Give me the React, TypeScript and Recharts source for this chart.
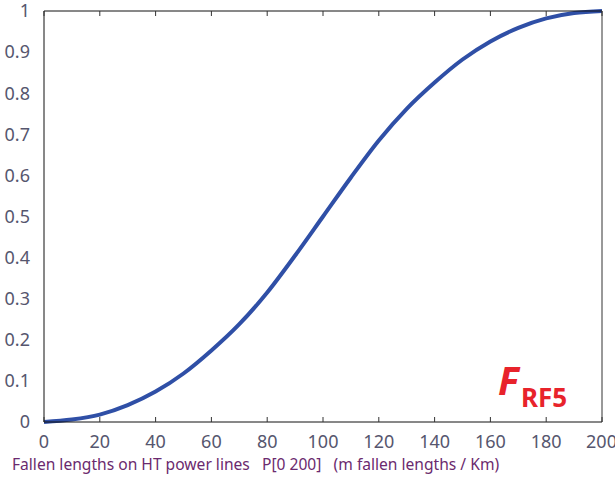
import React from 'react';
import { LineChart, Line, XAxis, YAxis, Customized } from 'recharts';

// Cumulative distribution of fallen lengths (m / km) on HT power lines
const lengths = [0, 10, 20, 30, 40, 50, 60, 70, 80, 90, 100, 110, 120, 130, 140, 150, 160, 170, 180, 190, 200];
const probability = [0, 0.006, 0.018, 0.041, 0.074, 0.118, 0.174, 0.238, 0.315, 0.405, 0.5, 0.595, 0.685, 0.762, 0.826, 0.882, 0.926, 0.959, 0.982, 0.995, 1.0];

const xTicks = [0, 20, 40, 60, 80, 100, 120, 140, 160, 180, 200];
const yTicks = [0, 0.1, 0.2, 0.3, 0.4, 0.5, 0.6, 0.7, 0.8, 0.9, 1];

const rows = lengths.map((x, i) => ({ x, p: probability[i] }));

const FONT = '"Noto Sans", "Open Sans", sans-serif';
const TICK_COLOR = '#56566e';
const LABEL_COLOR = '#6b2a6e';
const FRAME = '#111';

const Badge = () => (
  <g fill="#e8232b" fontFamily={FONT} fontWeight="bold">
    <text x={498} y={395} fontSize={39} fontStyle="italic">F</text>
    <text x={521} y={407} fontSize={26}>RF5</text>
  </g>
);

const AxisTitle = () => (
  <text x={12} y={470} fontFamily={FONT} fontSize={15.6} fill={LABEL_COLOR} style={{ whiteSpace: 'pre' }}>
    {'Fallen lengths on HT power lines   P[0 200]   (m fallen lengths / Km)'}
  </text>
);

const noTick = () => <g />;

export default function App() {
  return (
    <div style={{ position: 'absolute', left: 0, top: 0, background: '#fff' }}>
      <LineChart width={615} height={477} data={rows} margin={{ top: 11, right: 13, bottom: 0, left: 0 }}>
        {/* labelled axes */}
        <XAxis
          dataKey="x"
          type="number"
          domain={[0, 200]}
          ticks={xTicks}
          height={55}
          tickLine={false}
          tickMargin={7}
          axisLine={{ stroke: FRAME }}
          tick={{ fill: TICK_COLOR, fontSize: 18, fontFamily: FONT }}
        />
        <YAxis
          type="number"
          domain={[0, 1]}
          ticks={yTicks}
          width={44}
          tickLine={false}
          tickMargin={8}
          axisLine={{ stroke: FRAME }}
          tick={{ fill: TICK_COLOR, fontSize: 18, fontFamily: FONT }}
        />
        {/* inward tick marks on all four sides of the box */}
        <XAxis
          xAxisId="bottomTicks"
          orientation="bottom"
          mirror
          dataKey="x"
          type="number"
          domain={[0, 200]}
          ticks={xTicks}
          height={1}
          tickSize={5}
          axisLine={false}
          tickLine={{ stroke: '#333' }}
          tick={noTick}
        />
        <XAxis
          xAxisId="top"
          orientation="top"
          mirror
          dataKey="x"
          type="number"
          domain={[0, 200]}
          ticks={xTicks}
          height={1}
          tickSize={5}
          axisLine={{ stroke: FRAME }}
          tickLine={{ stroke: '#333' }}
          tick={noTick}
        />
        <YAxis
          yAxisId="leftTicks"
          orientation="left"
          mirror
          type="number"
          domain={[0, 1]}
          ticks={yTicks}
          width={1}
          tickSize={5}
          axisLine={false}
          tickLine={{ stroke: '#333' }}
          tick={noTick}
        />
        <YAxis
          yAxisId="right"
          orientation="right"
          mirror
          type="number"
          domain={[0, 1]}
          ticks={yTicks}
          width={1}
          tickSize={5}
          axisLine={{ stroke: '#333' }}
          tickLine={{ stroke: '#333' }}
          tick={noTick}
        />
        <Line
          type="monotone"
          dataKey="p"
          stroke="#2f4fa6"
          strokeWidth={4}
          dot={false}
          isAnimationActive={false}
        />
        <Customized component={Badge} />
        <Customized component={AxisTitle} />
      </LineChart>
    </div>
  );
}
